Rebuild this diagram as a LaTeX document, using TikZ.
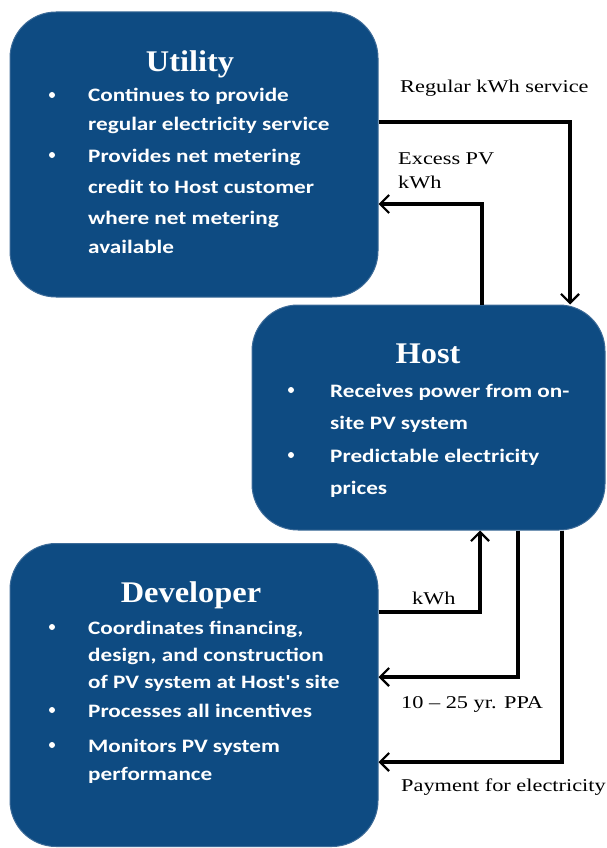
\documentclass[tikz,border=0pt]{standalone}
\usepackage{fontspec}
\setmainfont{Liberation Serif}
\newfontfamily\bodyfont[FakeStretch=1.22]{Carlito}
\newfontfamily\labelfont[FakeStretch=1.24]{Liberation Serif}
\newfontfamily\titlefont[FakeStretch=1.08]{Liberation Serif}
\usetikzlibrary{arrows.meta}
\definecolor{panelblue}{HTML}{0E4B82}
\definecolor{paneledge}{HTML}{3D6B98}
\tikzset{
  panel/.style={draw=paneledge, line width=1pt, fill=panelblue, rounded corners=46pt, inner sep=0pt},
  paneltitle/.style={text=white, font=\titlefont\bfseries\fontsize{30}{32}\selectfont, anchor=base},
  item/.style={text=white, font=\bodyfont\bfseries\fontsize{19}{22}\selectfont, anchor=base west, inner sep=0pt},
  dot/.style={circle, fill=white, minimum size=6pt, inner sep=0pt},
  flow/.style={line width=3.4pt, -{Straight Barb[length=9pt,width=18pt,line width=2.2pt]}},
  flowlabel/.style={font=\labelfont\fontsize{18}{20}\selectfont, anchor=base west, inner sep=0pt},
}
\begin{document}
\begin{tikzpicture}[x=1pt, y=-1pt]
  \useasboundingbox (0,0) rectangle (607,848);

  % the three parties
  \node[panel, minimum width=368pt, minimum height=285pt] (utility) at (194,154.5) {};
  \node[panel, minimum width=353pt, minimum height=225pt] (host) at (428.5,417.5) {};
  \node[panel, minimum width=368pt, minimum height=303pt] (developer) at (194,695) {};

  % Utility text
  \node[paneltitle] (utitle) at (190,72) {Utility};
  \node[dot] (ub1) at (52,95) {};
  \node[item] (ut1) at (88,102) {Continues to provide};
  \node[item] (ut2) at (88,131) {regular electricity service};
  \node[dot] (ub2) at (52,155) {};
  \node[item] (ut3) at (88,162) {Provides net metering};
  \node[item] (ut4) at (88,193) {credit to Host customer};
  \node[item] (ut5) at (88,224) {where net metering};
  \node[item] (ut6) at (88,253) {available};

  % Host text
  \node[paneltitle] (htitle) at (428,363) {Host};
  \node[dot] (hb1) at (291,390) {};
  \node[item] (ht1) at (330,397) {Receives power from on-};
  \node[item] (ht2) at (330,429) {site PV system};
  \node[dot] (hb2) at (291,455) {};
  \node[item] (ht3) at (330,462) {Predictable electricity};
  \node[item] (ht4) at (330,494) {prices};

  % Developer text
  \node[paneltitle] (dtitle) at (191,602) {Developer};
  \node[dot] (db1) at (52,627) {};
  \node[item] (dt1) at (88,634) {Coordinates financing,};
  \node[item] (dt2) at (88,661) {design, and construction};
  \node[item] (dt3) at (88,688) {of PV system at Host's site};
  \node[dot] (db2) at (52,710) {};
  \node[item] (dt4) at (88,717) {Processes all incentives};
  \node[dot] (db3) at (52,745) {};
  \node[item] (dt5) at (88,752) {Monitors PV system};
  \node[item] (dt6) at (88,780) {performance};

  % flows between the parties
  \draw[flow] (utility.east |- 0,122) -| (host.north -| 570,0);
  \draw[flow] (host.north -| 482,0) |- (utility.east |- 0,204);
  \draw[flow] (developer.east |- 0,612) -| (host.south -| 480,0);
  \draw[flow] (host.south -| 518,0) |- (developer.east |- 0,677);
  \draw[flow] (host.south -| 562,0) |- (developer.east |- 0,762);

  % flow labels
  \node[flowlabel] (lreg) at (400,93) {Regular kWh service};
  \node[flowlabel] (lexc1) at (398,164) {Excess PV};
  \node[flowlabel] (lexc2) at (398,188) {kWh};
  \node[flowlabel] (lkwh) at (412,604) {kWh};
  \node[flowlabel] (lppa) at (401,708) {10 – 25 yr. PPA};
  \node[flowlabel] (lpay) at (401,791) {Payment for electricity};
\end{tikzpicture}
\end{document}
